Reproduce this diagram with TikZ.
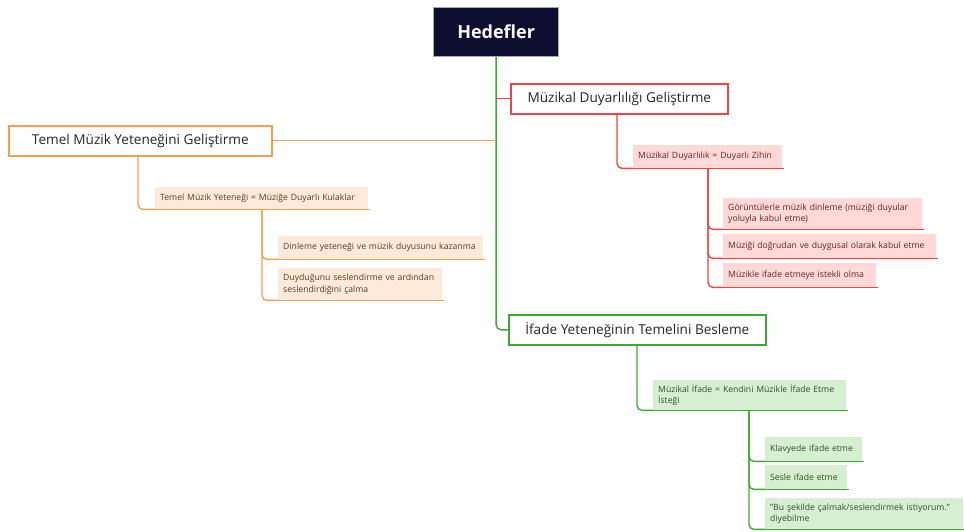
\documentclass[tikz,border=0pt]{standalone}
\usepackage{fontspec}
\setmainfont{Open Sans}
\usepackage{xcolor}
\usetikzlibrary{positioning,calc}

\definecolor{rootblue}{HTML}{0E0E30}
\definecolor{orline}{HTML}{F2A04E}
\definecolor{orfill}{HTML}{FDEADA}
\definecolor{ortext}{HTML}{5E3A20}
\definecolor{rdline}{HTML}{EE4444}
\definecolor{rdfill}{HTML}{FFD8D8}
\definecolor{rdtext}{HTML}{6A2222}
\definecolor{gnline}{HTML}{3CAA30}
\definecolor{gnfill}{HTML}{D6EFD1}
\definecolor{gntext}{HTML}{2D4F2D}

\begin{document}
\begin{tikzpicture}[
  x=1pt, y=-1pt,
  root/.style={draw=gray!70, line width=1.2pt, fill=rootblue, text=white,
    font=\fontsize{18}{21}\selectfont\bfseries, minimum width=125pt,
    minimum height=49pt, anchor=north west},
  topic/.style={draw=#1, line width=1.6pt, fill=white, text=black!85,
    font=\fontsize{13.6}{16}\selectfont, minimum height=30pt,
    anchor=north west},
  leaf/.style={fill=#1, inner xsep=5pt, inner ysep=2pt, align=left,
    font=\fontsize{8.65}{11.8}\selectfont, anchor=north west},
  oleaf/.style={leaf=orfill, text=ortext},
  rleaf/.style={leaf=rdfill, text=rdtext},
  gleaf/.style={leaf=gnfill, text=gntext},
  oline/.style={draw=orline, line width=1.4pt, rounded corners=5pt},
  rline/.style={draw=rdline, line width=1.4pt, rounded corners=5pt},
  gline/.style={draw=gnline, line width=1.4pt, rounded corners=5pt}
]
\useasboundingbox (0,0) rectangle (964,532);

% centre
\node[root] (root) at (433,7) {Hedefler};

% main topics
\node[topic=orline, minimum width=263pt] (tmy) at (8,125) {Temel Müzik Yeteneğini Geliştirme};
\node[topic=rdline, minimum width=217pt] (mdg) at (510,83) {Müzikal Duyarlılığı Geliştirme};
\node[topic=gnline, minimum width=257pt] (iyt) at (508,314) {İfade Yeteneğinin Temelini Besleme};

% orange branch
\node[oleaf, text width=203pt, minimum height=22pt] (tmyk) at (155,187) {Temel Müzik Yeteneği = Müziğe Duyarlı Kulaklar};
\node[oleaf, text width=195pt, minimum height=23pt] (dyk) at (278,236) {Dinleme yeteneği ve müzik duyusunu kazanma};
\node[oleaf, text width=154pt, minimum height=32pt] (dsc) at (278,268) {Duyduğunu seslendirme ve ardından\\seslendirdiğini çalma};

% red branch
\node[rleaf, text width=139pt, minimum height=23pt] (mdz) at (633,145) {Müzikal Duyarlılık = Duyarlı Zihin};
\node[rleaf, text width=189pt, minimum height=31pt] (gmd) at (723,198) {Görüntülerle müzik dinleme (müziği duyular\\yoluyla kabul etme)};
\node[rleaf, text width=203pt, minimum height=24pt] (mdk) at (723,234) {Müziği doğrudan ve duygusal olarak kabul etme};
\node[rleaf, text width=143pt, minimum height=24pt] (mie) at (723,263) {Müzikle ifade etmeye istekli olma};

% green branch
\node[gleaf, text width=183pt, minimum height=30pt] (mif) at (653,380) {Müzikal İfade = Kendini Müzikle İfade Etme\\İsteği};
\node[gleaf, text width=87pt, minimum height=24pt] (kie) at (765,437) {Klavyede ifade etme};
\node[gleaf, text width=72pt, minimum height=24pt] (sie) at (765,465) {Sesle ifade etme};
\node[gleaf, text width=188pt, minimum height=31pt] (bsc) at (765,498) {"Bu şekilde çalmak/seslendirmek istiyorum."\\diyebilme};

% underlines of the leaves
\foreach \n/\s in {tmyk/oline,dyk/oline,dsc/oline,mdz/rline,gmd/rline,mdk/rline,mie/rline,mif/gline,kie/gline,sie/gline,bsc/gline}
  \draw[\s] (\n.south west) -- ([xshift=2pt]\n.south east);

% connectors
\draw[gline] (root.south) |- (iyt.west);
\draw[rline] (root.south |- mdg.west) -- (mdg.west);
\draw[oline] (root.south |- tmy.east) -- (tmy.east);

\draw[oline] ([xshift=130pt]tmy.south west) |- (tmyk.south west);
\foreach \c in {dyk,dsc}
  \draw[oline] ([xshift=107pt]tmyk.south west) |- (\c.south west);

\draw[rline] ([xshift=107pt]mdg.south west) |- (mdz.south west);
\foreach \c in {gmd,mdk,mie}
  \draw[rline] ([xshift=75pt]mdz.south west) |- (\c.south west);

\draw[gline] ([xshift=129pt]iyt.south west) |- (mif.south west);
\foreach \c in {kie,sie,bsc}
  \draw[gline] ([xshift=96pt]mif.south west) |- (\c.south west);
\end{tikzpicture}
\end{document}
